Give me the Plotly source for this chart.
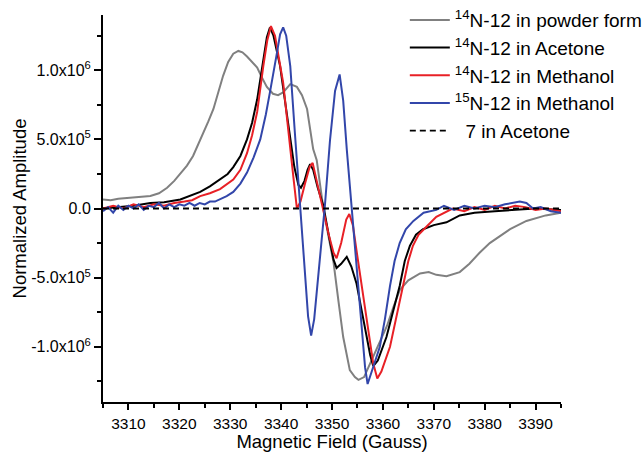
import plotly.graph_objects as go

# Magnetic field (Gauss) and normalized amplitude (units of 1e6)
powder_B = [3305, 3306.5, 3308, 3310, 3312, 3314.3, 3316, 3317.6, 3319, 3320.2, 3321.5, 3322.7, 3323.7,
            3324.7, 3325.7, 3326.7, 3327.7, 3328.6, 3329.6, 3330.6, 3331.6, 3332.4, 3333.3, 3334.3, 3335.3,
            3336.2, 3337.2, 3338.4, 3339.4, 3340.4, 3341.8, 3343.1, 3344.1, 3345.1, 3346.3, 3347.0, 3348.3,
            3349.3, 3350.3, 3351.3, 3352.2, 3353.5, 3354.5, 3355.2, 3356.3, 3357.5, 3358.7, 3359.8, 3360.8,
            3362, 3363.3, 3365, 3367.3, 3369, 3370.5, 3372.5, 3374, 3375.1, 3377, 3379, 3381, 3382.9, 3385,
            3388.2, 3390, 3392, 3395]
powder_A = [0.065, 0.06, 0.07, 0.075, 0.085, 0.09, 0.11, 0.15, 0.2, 0.25, 0.31, 0.38, 0.46,
            0.55, 0.63, 0.72, 0.84, 0.96, 1.06, 1.12, 1.14, 1.13, 1.10, 1.06, 1.02,
            0.95, 0.88, 0.83, 0.82, 0.84, 0.90, 0.88, 0.82, 0.72, 0.43, 0.35, 0.0,
            -0.2, -0.39, -0.68, -0.93, -1.17, -1.22, -1.24, -1.22, -1.12, -1.02, -0.92, -0.85,
            -0.72, -0.59, -0.52, -0.47, -0.46, -0.48, -0.49, -0.47, -0.46, -0.40, -0.32, -0.25, -0.20, -0.15,
            -0.09, -0.07, -0.05, -0.03]

acetone_B = [3305, 3308, 3311, 3314.3, 3317, 3320.2, 3322, 3324.1, 3326, 3328, 3329.5, 3330.6, 3332,
             3333.3, 3334.3, 3335.3, 3336.5, 3337.2, 3337.8, 3338.5, 3339.8, 3340.8, 3341.8, 3342.6,
             3343.4, 3343.9, 3344.6, 3345.2, 3345.7, 3346.3, 3347.2, 3348.3, 3349.3, 3350.3, 3350.9,
             3351.8, 3352.9, 3353.8, 3354.8, 3355.8, 3356.8, 3357.5, 3358.1, 3359, 3360.7, 3362, 3363.3,
             3364.3, 3365.3, 3366.5, 3367.9, 3370, 3372.5, 3375.1, 3378, 3382, 3386.9, 3390, 3395]
acetone_A = [0.0, 0.01, 0.02, 0.04, 0.045, 0.065, 0.09, 0.12, 0.16, 0.21, 0.25, 0.30, 0.38,
             0.50, 0.62, 0.79, 1.08, 1.24, 1.31, 1.25, 1.03, 0.78, 0.50, 0.30,
             0.17, 0.15, 0.20, 0.28, 0.32, 0.28, 0.15, 0.02, -0.18, -0.37, -0.43,
             -0.40, -0.35, -0.42, -0.54, -0.74, -0.93, -1.06, -1.14, -1.10, -0.93, -0.75, -0.56,
             -0.38, -0.27, -0.19, -0.15, -0.12, -0.10, -0.05, -0.03, -0.02, -0.01, 0.0, -0.01]

methanol14_B = [3305, 3307, 3309, 3311, 3313, 3315, 3317, 3319, 3321, 3322.5, 3324.1, 3326, 3328, 3330.6,
                3332, 3333.3, 3334.3, 3335.3, 3336.5, 3337.3, 3338, 3338.8, 3340.4, 3341.4, 3342.4, 3343.1,
                3343.8, 3344.7, 3345.6, 3346.2, 3347, 3348.3, 3349.3, 3350.3, 3350.9, 3351.8, 3352.8,
                3353.4, 3354.1, 3354.8, 3355.8, 3356.8, 3358.1, 3358.9, 3359.7, 3361.4, 3362.7, 3364,
                3365, 3365.9, 3367, 3368.6, 3370.5, 3373.7, 3376, 3378, 3380, 3382, 3384, 3386, 3388,
                3390, 3392, 3395]
methanol14_A = [0.0, 0.02, 0.0, 0.03, 0.01, 0.03, 0.02, 0.04, 0.05, 0.06, 0.09, 0.11, 0.14, 0.21,
                0.28, 0.40, 0.53, 0.70, 1.03, 1.22, 1.32, 1.25, 0.91, 0.55, 0.23, 0.0,
                0.05, 0.18, 0.30, 0.33, 0.20, -0.03, -0.18, -0.32, -0.36, -0.25, -0.08,
                -0.04, -0.12, -0.30, -0.55, -0.78, -1.12, -1.23, -1.18, -1.0, -0.78, -0.56,
                -0.38, -0.27, -0.19, -0.13, -0.06, 0.0, -0.02, 0.01, -0.01, 0.02, 0.0, 0.02, 0.01,
                -0.01, 0.0, -0.02]

methanol15_B = [3305, 3306, 3307, 3308, 3309, 3310, 3311, 3312, 3313, 3314, 3315, 3316, 3317, 3318, 3319,
                3320, 3321, 3322, 3323, 3324, 3325, 3326, 3327, 3328, 3329.3, 3330.6, 3332, 3333.3,
                3334.6, 3335.9, 3337, 3337.8, 3338.5, 3339.2, 3339.8, 3340.4, 3341, 3341.8, 3342.7,
                3343.7, 3344.5, 3345.3, 3345.9, 3346.5, 3347.6, 3348.6, 3349.6, 3350.6, 3351.5, 3352.2,
                3352.9, 3353.9, 3354.8, 3355.8, 3356.5, 3357, 3357.8, 3359.4, 3360.4, 3361.4, 3362.3,
                3363.3, 3364.5, 3366, 3368, 3370.5, 3372, 3374, 3376, 3378, 3380, 3382, 3384, 3386.9,
                3388.2, 3389.5, 3391, 3393, 3395]
methanol15_A = [-0.02, 0.01, -0.03, 0.02, -0.01, 0.02, 0.0, 0.03, -0.01, 0.02, 0.01, 0.04, 0.0, 0.03, 0.01,
                0.03, 0.02, 0.04, 0.02, 0.04, 0.03, 0.05, 0.05, 0.065, 0.09, 0.12, 0.18, 0.26,
                0.37, 0.50, 0.68, 0.84, 1.0, 1.13, 1.26, 1.31, 1.25, 1.03, 0.55,
                0.01, -0.40, -0.78, -0.92, -0.80, -0.37, 0.02, 0.49, 0.85, 0.97, 0.78,
                0.43, -0.01, -0.42, -0.90, -1.15, -1.27, -1.18, -1.0, -0.80, -0.56, -0.38,
                -0.25, -0.15, -0.09, -0.03, -0.01, 0.02, -0.01, 0.02, 0.0, 0.02, 0.01, 0.03, 0.05,
                0.04, 0.0, 0.01, -0.02, -0.03]

ref7_B = [3305, 3395]
ref7_A = [0.0, 0.0]

SCALE = 1e6
y_tickvals = [-1.0e6, -5.0e5, 0.0, 5.0e5, 1.0e6]
y_ticktext = ["-1.0x10<sup>6</sup>", "-5.0x10<sup>5</sup>", "0.0", "5.0x10<sup>5</sup>", "1.0x10<sup>6</sup>"]
y_minorvals = [-1.25e6, -7.5e5, -2.5e5, 2.5e5, 7.5e5, 1.25e6]
x_tickvals = [3310, 3320, 3330, 3340, 3350, 3360, 3370, 3380, 3390]

series = [
    ("<sup>14</sup>N-12 in powder form", powder_B, powder_A, "rgb(128,128,128)", "solid"),
    ("<sup>14</sup>N-12 in Acetone", acetone_B, acetone_A, "black", "solid"),
    ("<sup>14</sup>N-12 in Methanol", methanol14_B, methanol14_A, "rgb(232,32,38)", "solid"),
    ("<sup>15</sup>N-12 in Methanol", methanol15_B, methanol15_A, "rgb(50,70,170)", "solid"),
    ("  7 in Acetone", ref7_B, ref7_A, "black", "6px,4px"),
]

fig = go.Figure()
for name, xb, ya, col, dash in series:
    fig.add_trace(go.Scatter(
        x=xb, y=[v * SCALE for v in ya], mode="lines", name=name,
        line=dict(color=col, width=2 if dash == "solid" else 1.8, dash=dash),
    ))

font = "Liberation Sans, Arial, sans-serif"
fig.update_layout(
    width=643, height=452,
    margin=dict(l=103, r=82, t=15, b=50, autoexpand=False),
    paper_bgcolor="white", plot_bgcolor="white",
    font=dict(family=font, color="black"),
    showlegend=True,
    legend=dict(x=0.659, y=1.036, xanchor="left", yanchor="top",
                bgcolor="rgba(0,0,0,0)", font=dict(size=19, family=font),
                tracegroupgap=0, itemwidth=40),
    xaxis=dict(range=[3305, 3395], tickmode="array", tickvals=x_tickvals,
               showline=True, linecolor="black", linewidth=2, mirror=False,
               ticks="outside", ticklen=6, tickwidth=1.5, tickcolor="black",
               minor=dict(tickmode="linear", tick0=3305, dtick=10, ticks="outside",
                          ticklen=4, tickwidth=1.5, tickcolor="black", showgrid=False),
               showgrid=False, zeroline=False, automargin=False,
               tickfont=dict(size=15.5),
               title=dict(text="Magnetic Field (Gauss)", font=dict(size=18.5), standoff=7)),
    yaxis=dict(range=[-1.4e6, 1.4e6], tickmode="array", tickvals=y_tickvals, ticktext=y_ticktext,
               showline=True, linecolor="black", linewidth=2, mirror=False,
               ticks="outside", ticklen=7, tickwidth=1.5, tickcolor="black",
               minor=dict(tickmode="array", tickvals=y_minorvals,
                          ticks="outside", ticklen=4, tickwidth=1.5, tickcolor="black", showgrid=False),
               showgrid=False, zeroline=False, automargin=False,
               tickfont=dict(size=16),
               title=dict(text="Normalized Amplitude", font=dict(size=18.5), standoff=0)),
)

fig.write_html("out.html", config={"displayModeBar": False},
               post_script="document.body.style.margin='0';")
